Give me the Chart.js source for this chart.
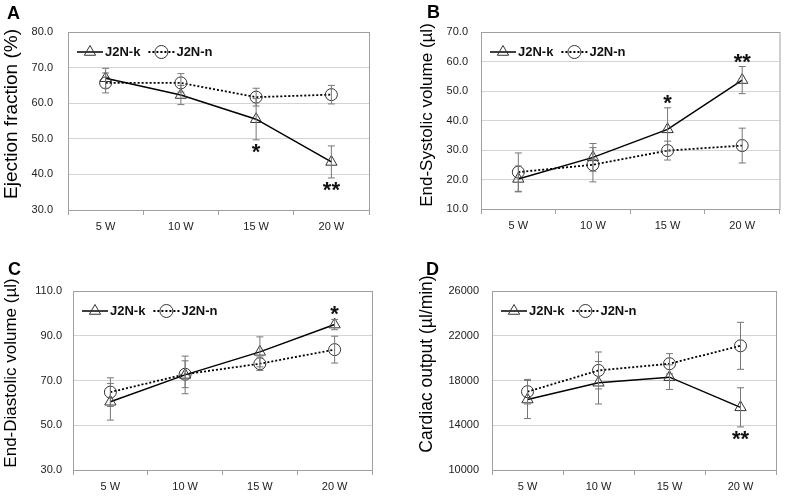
<!DOCTYPE html>
<html>
<head>
<meta charset="utf-8">
<script src="https://cdn.jsdelivr.net/npm/chart.js@4.4.1/dist/chart.umd.min.js"></script>
<style>
  body { margin: 0; background: #fff; }
  canvas { position: absolute; }
</style>
</head>
<body>
<canvas id="pa" style="left:0;top:0" width="393" height="248"></canvas>
<canvas id="pb" style="left:393px;top:0" width="394" height="248"></canvas>
<canvas id="pc" style="left:0;top:248px" width="393" height="248"></canvas>
<canvas id="pd" style="left:393px;top:248px" width="394" height="248"></canvas>
<script>
// weeks of age
var weeks = ['5 W', '10 W', '15 W', '20 W'];

// A: ejection fraction (%)
var efK = [67.0, 62.3, 55.5, 43.5];
var efKErr = [2.8, 2.7, 5.8, 4.5];
var efN = [65.7, 65.7, 61.7, 62.4];
var efNErr = [2.8, 2.6, 2.5, 2.6];
var efSig = ['', '', '*', '**'];

// B: end-systolic volume (ul)
var esvK = [20.2, 27.5, 37.0, 53.7];
var esvKErr = [4.4, 4.7, 7.3, 4.6];
var esvN = [22.5, 25.0, 29.8, 31.5];
var esvNErr = [6.5, 5.8, 3.2, 5.9];
var esvSig = ['', '', '*', '**'];

// C: end-diastolic volume (ul)
var edvK = [60.5, 72.5, 82.8, 95.0];
var edvKErr = [8.2, 8.4, 6.7, 2.3];
var edvN = [64.8, 72.8, 77.5, 83.8];
var edvNErr = [6.4, 6.0, 3.0, 6.0];
var edvSig = ['', '', '', '*'];

// D: cardiac output (ul/min)
var coK = [16300, 17800, 18300, 15600];
var coKErr = [1700, 1900, 1100, 1750];
var coN = [17000, 18900, 19500, 21100];
var coNErr = [1100, 1650, 900, 2100];
var coSig = ['', '', '', '**'];

var FONT = "'Liberation Sans', Arial, sans-serif";

function drawMarker(ctx, style, x, y, r) {
    ctx.beginPath();
    if (style === 'triangle') {
        ctx.moveTo(x, y - r);
        ctx.lineTo(x + r * 0.866, y + r * 0.5);
        ctx.lineTo(x - r * 0.866, y + r * 0.5);
        ctx.closePath();
    } else {
        ctx.arc(x, y, r, 0, Math.PI * 2);
    }
    ctx.stroke();
}

var extras = {
    id: 'extras',
    afterDatasetsDraw: function(chart) {
        var ctx = chart.ctx, ys = chart.scales.y;
        var o = chart.options.plugins.extras;
        ctx.save();
        chart.data.datasets.forEach(function(ds, di) {
            var meta = chart.getDatasetMeta(di);
            meta.data.forEach(function(pt, i) {
                var top = ys.getPixelForValue(ds.data[i] + ds.err[i]);
                var bot = ys.getPixelForValue(ds.data[i] - ds.err[i]);
                ctx.strokeStyle = '#777';
                ctx.lineWidth = 1;
                ctx.beginPath();
                ctx.moveTo(pt.x, top); ctx.lineTo(pt.x, bot);
                ctx.moveTo(pt.x - 3.5, top); ctx.lineTo(pt.x + 3.5, top);
                ctx.moveTo(pt.x - 3.5, bot); ctx.lineTo(pt.x + 3.5, bot);
                ctx.stroke();
                if (ds.sig && ds.sig[i]) {
                    // star sits just past the end of the error bar
                    var cy = o.sigDown ? bot + 7 : top - 10;
                    ctx.fillStyle = '#111';
                    ctx.font = 'bold 22px ' + FONT;
                    ctx.textAlign = 'center';
                    ctx.textBaseline = 'alphabetic';
                    ctx.fillText(ds.sig[i], pt.x, cy + 12);
                }
            });
        });
        ctx.restore();
    },
    afterDraw: function(chart) {
        var ctx = chart.ctx, a = chart.chartArea;
        var o = chart.options.plugins.extras;
        ctx.save();
        ctx.strokeStyle = '#a0a0a0';
        ctx.lineWidth = 1;
        ctx.strokeRect(a.left + 0.5, a.top + 0.5, a.right - a.left, a.bottom - a.top);

        // legend inside the plot
        var x = a.left + 9, y = a.top + 20;
        ctx.font = 'bold 13px ' + FONT;
        ctx.textBaseline = 'middle';
        ctx.textAlign = 'left';
        chart.data.datasets.forEach(function(ds) {
            ctx.strokeStyle = '#000';
            ctx.lineWidth = ds.borderWidth;
            ctx.setLineDash(ds.borderDash || []);
            ctx.beginPath();
            ctx.moveTo(x, y); ctx.lineTo(x + 26, y);
            ctx.stroke();
            ctx.setLineDash([]);
            ctx.strokeStyle = '#333';
            ctx.lineWidth = 1;
            drawMarker(ctx, ds.pointStyle, x + 13, y, 6.5);
            ctx.fillStyle = '#111';
            ctx.fillText(ds.label, x + 28, y);
            x += 28 + ctx.measureText(ds.label).width + 8;
        });

        // y axis title
        ctx.save();
        ctx.translate(o.titleX, o.titleY);
        ctx.rotate(-Math.PI / 2);
        ctx.font = o.titleSize + 'px ' + FONT;
        ctx.textAlign = 'center';
        ctx.textBaseline = 'middle';
        ctx.fillStyle = '#000';
        ctx.fillText(o.title, 0, 0);
        ctx.restore();

        // panel letter
        ctx.font = 'bold 18px ' + FONT;
        ctx.textBaseline = 'alphabetic';
        ctx.textAlign = 'left';
        ctx.fillStyle = '#000';
        ctx.fillText(o.letter, o.letterX, o.letterY);
        ctx.restore();
    }
};

function panel(id, p) {
    new Chart(document.getElementById(id), {
        type: 'line',
        data: {
            labels: weeks,
            datasets: [{
                label: 'J2N-k',
                data: p.k,
                err: p.kErr,
                sig: p.sig,
                borderColor: '#000',
                borderWidth: 1.5,
                pointStyle: 'triangle',
                pointRadius: 6.5,
                pointBorderColor: '#333',
                pointBorderWidth: 1,
                pointBackgroundColor: 'rgba(0,0,0,0)',
                tension: 0
            }, {
                label: 'J2N-n',
                data: p.n,
                err: p.nErr,
                borderColor: '#000',
                borderWidth: 1.8,
                borderDash: [2, 2],
                pointStyle: 'circle',
                pointRadius: 6,
                pointBorderColor: '#333',
                pointBorderWidth: 1,
                pointBackgroundColor: 'rgba(0,0,0,0)',
                tension: 0
            }]
        },
        options: {
            responsive: false,
            animation: false,
            layout: { padding: { left: 0, top: p.top, right: p.right, bottom: p.bottom } },
            plugins: {
                legend: { display: false },
                tooltip: { enabled: false },
                extras: {
                    letter: p.letter, letterX: p.letterX, letterY: p.letterY, sigDown: p.sigDown,
                    title: p.title, titleX: p.titleX, titleY: p.titleY, titleSize: p.titleSize
                }
            },
            scales: {
                x: {
                    offset: true,
                    grid: { offset: true, drawOnChartArea: false, tickLength: 5, color: '#a0a0a0' },
                    border: { color: '#a0a0a0' },
                    ticks: { padding: 5, color: '#222', font: { family: FONT, size: 11 } },
                    afterFit: function(s) { s.height = 26; }
                },
                y: {
                    min: p.min, max: p.max,
                    ticks: {
                        stepSize: p.step, padding: p.tickPad, color: '#222',
                        font: { family: FONT, size: 11 },
                        callback: p.fmt
                    },
                    grid: { color: '#d4d4d4', drawTicks: false },
                    border: { color: '#a0a0a0' },
                    afterFit: function(s) { s.width = p.axisL; }
                }
            }
        },
        plugins: [extras]
    });
}

var oneDec = function(v) { return v.toFixed(1); };

panel('pa', { k: efK, kErr: efKErr, n: efN, nErr: efNErr, sig: efSig, sigDown: true,
    min: 30, max: 80, step: 10, fmt: oneDec, title: 'Ejection fraction (%)',
    titleX: 12, titleY: 114, titleSize: 19, axisL: 68, tickPad: 15, top: 32, right: 24, bottom: 12,
    letter: 'A', letterX: 7, letterY: 19 });

panel('pb', { k: esvK, kErr: esvKErr, n: esvN, nErr: esvNErr, sig: esvSig, sigDown: false,
    min: 10, max: 70, step: 10, fmt: oneDec, title: 'End-Systolic volume (\u00b5l)',
    titleX: 34, titleY: 115, titleSize: 17, axisL: 88, tickPad: 13, top: 32, right: 6, bottom: 13,
    letter: 'B', letterX: 34, letterY: 18 });

panel('pc', { k: edvK, kErr: edvKErr, n: edvN, nErr: edvNErr, sig: edvSig, sigDown: false,
    min: 30, max: 110, step: 20, fmt: oneDec, title: 'End-Diastolic volume (\u00b5l)',
    titleX: 11, titleY: 125, titleSize: 17, axisL: 73, tickPad: 11, top: 43, right: 21, bottom: 0,
    letter: 'C', letterX: 8, letterY: 27 });

panel('pd', { k: coK, kErr: coKErr, n: coN, nErr: coNErr, sig: coSig, sigDown: true,
    min: 10000, max: 26000, step: 4000, fmt: function(v) { return String(v); },
    title: 'Cardiac output (\u00b5l/min)',
    titleX: 34, titleY: 116, titleSize: 17.5, axisL: 99, tickPad: 13, top: 43, right: 11, bottom: 0,
    letter: 'D', letterX: 33, letterY: 27 });
</script>
</body>
</html>
